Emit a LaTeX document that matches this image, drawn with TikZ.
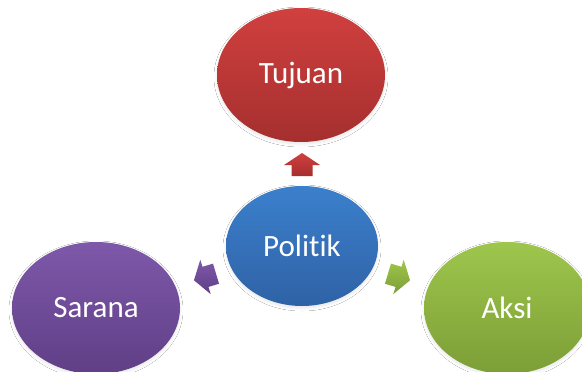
\documentclass[tikz,border=0pt]{standalone}
\usepackage{fontspec}
\setmainfont{Carlito}[Ligatures=NoCommon]
\usetikzlibrary{shapes.geometric,shadows.blur}
\definecolor{redT}{HTML}{D0403F}
\definecolor{redB}{HTML}{A52F2E}
\definecolor{bluT}{HTML}{3B80CC}
\definecolor{bluB}{HTML}{2F62A6}
\definecolor{purT}{HTML}{7E58AA}
\definecolor{purB}{HTML}{603F86}
\definecolor{grnT}{HTML}{9EC64C}
\definecolor{grnB}{HTML}{7C9E37}
\tikzset{
  bubble/.style={ellipse, inner sep=0pt, text=white, font=\fontsize{31}{36}\selectfont,
    blur shadow={shadow blur steps=8, shadow xshift=0pt, shadow yshift=-2pt, shadow opacity=10, shadow blur radius=3pt}},
  pics/blockarrow/.style n args={3}{code={
    \path[top color=#1, bottom color=#2, rotate=#3]
      (-11.5,-10.5) -- (-0.5,-10.5) -- (-0.5,-18) -- (11.5,0) -- (-0.5,18) -- (-0.5,10.5) -- (-11.5,10.5) -- cycle;
  }}
}
\begin{document}
\begin{tikzpicture}[x=1pt,y=1pt]
\useasboundingbox (0,0) rectangle (582,-372);
\clip (0,0) rectangle (582,-372);
\fill[white] (0,0) rectangle (582,-372);
\node[bubble, minimum width=168pt, minimum height=134pt, top color=redT, bottom color=redB] (tuj) at (301,-75) {Tujuan};
\node[bubble, minimum width=152pt, minimum height=120pt, top color=bluT, bottom color=bluB] (pol) at (302,-246) {Poli{}tik};
\node[bubble, minimum width=168pt, minimum height=132pt, top color=purT, bottom color=purB] (sar) at (96,-308) {Sarana};
\node[bubble, minimum width=166pt, minimum height=132pt, top color=grnT, bottom color=grnB] (aks) at (507,-308) {Aksi};
\pic (aup) at (302,-164.5) {blockarrow={redT}{redB}{90}};
\pic (alf) at (205,-277) {blockarrow={purT}{purB}{196.7}};
\pic (art) at (399,-277) {blockarrow={grnT}{grnB}{-16.7}};
\end{tikzpicture}
\end{document}
